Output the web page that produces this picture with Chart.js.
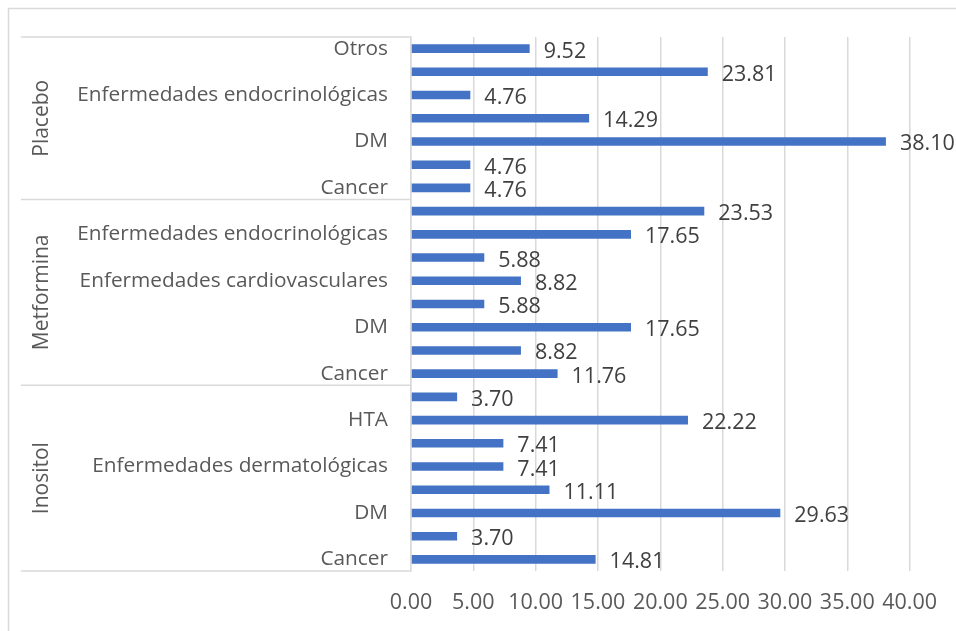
<!DOCTYPE html>
<html lang="es">
<head>
  <meta charset="UTF-8">
  <title>Comorbilidades por grupo</title>
  <script src="https://cdn.jsdelivr.net/npm/chart.js@4.4.1/dist/chart.umd.min.js"></script>
  <style>
    body { margin: 0; background: #fff; }
    #wrap { position: relative; width: 956px; height: 631px; }
  </style>
</head>
<body>
  <div id="wrap"><canvas id="chart"></canvas></div>

  <script>
    // groups from top to bottom; the unlabelled rows in the picture are guesses
    const groups = ['Placebo', 'Metformina', 'Inositol'];

    const placeboCats = ['Otros', 'HTA', 'Enfermedades endocrinológicas', 'Enfermedades cardiovasculares', 'DM', 'Depresión', 'Cancer'];
    const placeboValues = [9.52, 23.81, 4.76, 14.29, 38.10, 4.76, 4.76];

    const metforminaCats = ['HTA', 'Enfermedades endocrinológicas', 'Enfermedades dermatológicas', 'Enfermedades cardiovasculares', 'Dislipidemia', 'DM', 'Depresión', 'Cancer'];
    const metforminaValues = [23.53, 17.65, 5.88, 8.82, 5.88, 17.65, 8.82, 11.76];

    const inositolCats = ['Otros', 'HTA', 'Enfermedades endocrinológicas', 'Enfermedades dermatológicas', 'Enfermedades cardiovasculares', 'DM', 'Depresión', 'Cancer'];
    const inositolValues = [3.70, 22.22, 7.41, 7.41, 11.11, 29.63, 3.70, 14.81];

    const xTicks = [0, 5, 10, 15, 20, 25, 30, 35, 40];

    const groupCats = [placeboCats, metforminaCats, inositolCats];
    const labels = [].concat(placeboCats, metforminaCats, inositolCats);
    const values = [].concat(placeboValues, metforminaValues, inositolValues);

    const GRID = '#d9d9d9';
    const FONT = "'Open Sans', sans-serif";

    Chart.defaults.font.family = FONT;

    // outer frame of the chart (right and bottom edges fall outside the picture)
    const framePlugin = {
      id: 'frame',
      beforeDraw(chart) {
        const ctx = chart.ctx;
        ctx.save();
        ctx.strokeStyle = GRID;
        ctx.lineWidth = 1.5;
        ctx.beginPath();
        ctx.moveTo(8.5, chart.height);
        ctx.lineTo(8.5, 8.5);
        ctx.lineTo(chart.width, 8.5);
        ctx.stroke();
        ctx.restore();
      }
    };

    // second level of the category axis: group names and separator lines
    const groupAxisPlugin = {
      id: 'groupAxis',
      afterDraw(chart) {
        const ctx = chart.ctx;
        const y = chart.scales.y;
        const left = 21;
        const right = chart.chartArea.left;
        const step = y.getPixelForValue(1) - y.getPixelForValue(0);
        ctx.save();
        ctx.strokeStyle = GRID;
        ctx.lineWidth = 1.5;
        let start = 0;
        const bounds = [y.getPixelForValue(0) - step / 2];
        groupCats.forEach(cats => {
          start += cats.length;
          bounds.push(y.getPixelForValue(start - 1) + step / 2);
        });
        bounds.forEach(b => {
          ctx.beginPath();
          ctx.moveTo(left, b);
          ctx.lineTo(right, b);
          ctx.stroke();
        });
        ctx.fillStyle = '#595959';
        ctx.font = '21px ' + FONT;
        ctx.textAlign = 'center';
        ctx.textBaseline = 'alphabetic';
        groups.forEach((g, i) => {
          const mid = (bounds[i] + bounds[i + 1]) / 2;
          ctx.save();
          ctx.translate(47.5, mid);
          ctx.rotate(-Math.PI / 2);
          ctx.fillText(g, 0, 0);
          ctx.restore();
        });
        ctx.restore();
      }
    };

    // value labels at the end of each bar
    const valueLabelPlugin = {
      id: 'valueLabels',
      afterDatasetsDraw(chart) {
        const ctx = chart.ctx;
        const meta = chart.getDatasetMeta(0);
        ctx.save();
        ctx.fillStyle = '#404040';
        ctx.font = '21.5px ' + FONT;
        ctx.textAlign = 'left';
        ctx.textBaseline = 'alphabetic';
        meta.data.forEach((bar, i) => {
          ctx.fillText(values[i].toFixed(2), bar.x + 14, bar.y + 9);
        });
        ctx.restore();
      }
    };

    new Chart(document.getElementById('chart'), {
      type: 'bar',
      data: {
        labels: labels,
        datasets: [{
          data: values,
          backgroundColor: '#4472c4',
          borderWidth: 0,
          categoryPercentage: 1,
          barPercentage: 0.37
        }]
      },
      options: {
        indexAxis: 'y',
        responsive: true,
        maintainAspectRatio: false,
        animation: false,
        layout: { padding: { left: 0, right: 45, top: 37, bottom: 0 } },
        plugins: {
          legend: { display: false },
          tooltip: { enabled: false }
        },
        scales: {
          x: {
            min: 0,
            max: 40,
            afterFit(scale) { scale.height = 60; },
            afterBuildTicks(scale) { scale.ticks = xTicks.map(v => ({ value: v })); },
            grid: { color: GRID, lineWidth: 1.5, drawTicks: false },
            border: { display: false },
            ticks: {
              padding: 19,
              color: '#595959',
              font: { size: 21.5 },
              maxRotation: 0,
              callback: v => Number(v).toFixed(2)
            }
          },
          y: {
            afterFit(scale) { scale.width = 411; },
            grid: { display: false, drawTicks: false },
            border: { display: true, color: GRID, width: 1.5 },
            ticks: {
              autoSkip: false,
              padding: 23,
              color: '#595959',
              font: { size: 20.8 },
              callback(value, index) {
                return index % 2 === 0 ? this.getLabelForValue(value) : '';
              }
            }
          }
        }
      },
      plugins: [framePlugin, groupAxisPlugin, valueLabelPlugin]
    });
  </script>
</body>
</html>
